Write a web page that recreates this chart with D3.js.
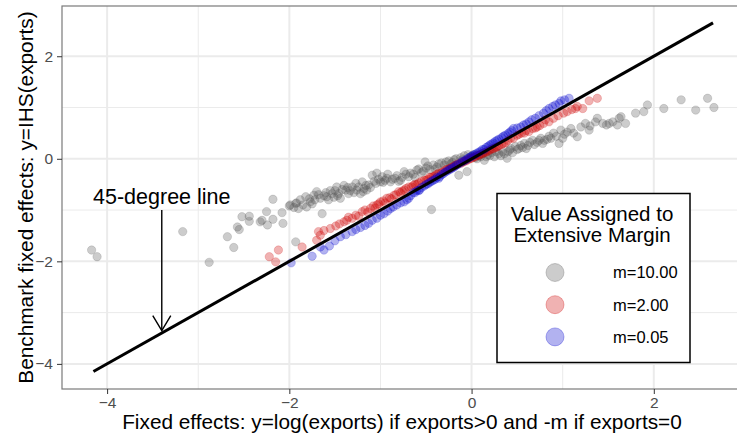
<!DOCTYPE html>
<html>
<head>
<meta charset="utf-8">
<script src="https://cdn.jsdelivr.net/npm/d3@7"></script>
<style>
  body { margin: 0; background: #fff; }
  svg { display: block; font-family: "Liberation Sans", Arial, Helvetica, sans-serif; }
</style>
</head>
<body>
<svg id="chart"></svg>
<script>
// m = 10.00 (grey)
const greyPoints = [
  [-4.17,-1.78],[-4.11,-1.91],[-3.17,-1.42],[-2.88,-2.02],[-2.68,-1.52],[-2.61,-1.73],[-2.57,-1.33],
  [-2.55,-1.38],[-2.52,-1.13],[-2.44,-1.12],[-2.44,-1.22],[-2.32,-1.23],[-2.30,-1.20],[-2.25,-1.03],
  [-2.24,-1.29],[-2.18,-0.79],[-2.18,-1.18],[-2.08,-1.05],[-2.07,-1.26],[-2.00,-0.92],[-1.93,-0.87],
  [-1.93,-1.62],[-1.99,-0.90],[-1.92,-0.86],[-1.90,-0.97],[-1.82,-0.74],[-1.81,-0.94],[-1.77,-0.84],
  [-1.73,-0.71],[-1.70,-0.64],[-1.66,-0.77],[-1.64,-1.07],[-1.59,-0.74],[-1.55,-0.62],[-1.51,-0.75],
  [-1.48,-0.55],[-1.46,-0.68],[-1.44,-0.77],[-1.40,-0.52],[-1.38,-0.61],[-1.35,-0.68],[-1.31,-0.55],
  [-1.27,-0.48],[-1.26,-0.61],[-1.22,-0.68],[-1.20,-0.45],[-1.18,-0.58],[-1.15,-0.61],[-1.13,-0.51],
  [-1.09,-0.32],[-1.05,-0.48],[-1.04,-0.28],[-1.00,-0.45],[-0.98,-0.35],[-0.95,-0.42],[-0.92,-0.30],
  [-0.89,-0.45],[-0.84,-0.38],[-0.78,-0.42],[-0.74,-0.25],[-0.69,-0.35],[-0.64,-0.30],[-0.60,-0.22],
  [-0.55,-0.27],[-0.51,-0.06],[-0.50,-0.18],[-0.46,-0.21],[-0.44,-0.99],[-0.42,-0.12],[-0.38,-0.16],
  [-0.33,-0.08],[-0.30,-0.12],[-0.25,-0.04],[-0.21,-0.07],[-0.17,0.00],[-0.14,-0.32],[-0.12,0.02],
  [-0.08,0.06],[-0.05,-0.25],[-0.04,0.08],[0.00,0.05],[0.04,0.02],[0.08,0.06],[0.14,-0.03],
  [0.18,0.08],[0.22,0.12],[0.25,0.04],[0.30,0.10],[0.34,0.14],[0.39,0.01],[0.42,0.17],[0.43,0.20],
  [0.48,0.24],[0.52,0.20],[0.58,0.30],[0.62,0.26],[0.67,0.36],[0.72,0.32],[0.76,0.40],[0.80,0.36],
  [0.85,0.44],[0.90,0.50],[0.96,0.30],[0.98,0.56],[1.02,0.48],[1.09,0.59],[1.16,0.43],[1.20,0.62],
  [1.25,0.69],[1.29,0.56],[1.36,0.72],[1.38,0.79],[1.44,0.69],[1.51,0.69],[1.60,0.66],[1.62,0.79],
  [1.64,0.82],[1.69,0.69],[1.80,0.89],[1.89,0.92],[1.93,1.05],[2.11,0.98],[2.30,1.15],[2.46,0.95],
  [2.59,1.18],[2.66,1.00],
  [-1.95,-0.95],[-1.88,-0.80],[-1.85,-0.90],[-1.78,-0.78],[-1.75,-0.88],[-1.72,-0.80],[-1.68,-0.70],
  [-1.62,-0.72],[-1.60,-0.66],[-1.57,-0.80],[-1.53,-0.68],[-1.50,-0.62],[-1.47,-0.72],[-1.42,-0.60],
  [-1.36,-0.56],[-1.33,-0.62],[-1.29,-0.66],[-1.24,-0.55],[-1.19,-0.64],[-1.16,-0.52],[-1.11,-0.56],
  [-1.07,-0.44],[-1.02,-0.40],[-0.97,-0.46],[-0.93,-0.38],[-0.87,-0.40],[-0.82,-0.33],[-0.80,-0.44],
  [-0.76,-0.36],[-0.72,-0.30],[-0.67,-0.28],[-0.62,-0.36],[-0.58,-0.20],[-0.53,-0.24],[-0.48,-0.14],
  [-0.40,-0.20],[-0.36,-0.10],[-0.28,-0.06],[-0.23,-0.10],[-0.19,-0.02],[-0.10,-0.02],[-0.02,0.02],
  [0.02,0.08],[0.06,0.00],[0.10,0.04],[0.12,0.10],[0.16,0.04],[0.20,0.06],[0.27,0.14],[0.32,0.06],
  [0.36,0.10],[0.40,0.14],[0.45,0.12],[0.50,0.18],[0.54,0.26],[0.56,0.22],[0.60,0.20],[0.64,0.32],
  [0.69,0.28],[0.74,0.36],[0.78,0.30],[0.83,0.38],[0.87,0.40],[0.93,0.44],[1.00,0.40],[1.05,0.52],
  [1.12,0.50],[1.30,0.64],[1.48,0.66],[1.55,0.72]
];

// m = 2.00 (red)
const redPoints = [
  [-2.22,-1.91],[-2.15,-2.01],[-2.12,-1.78],[-1.86,-1.72],[-1.70,-1.59],[-1.68,-1.42],[-1.66,-1.49],
  [-1.55,-1.36],[-1.49,-1.31],[-1.40,-1.23],[-1.37,-1.20],[-1.31,-1.16],[-1.20,-1.03],[-1.11,-0.97],
  [-1.04,-0.90],[-1.00,-0.84],[-0.93,-0.77],[-0.85,-0.71],[-0.80,-0.64],[-0.74,-0.61],[-0.69,-0.55],
  [-0.64,-0.52],[-0.60,-0.50],[-0.58,-0.47],[-0.55,-0.44],[-0.50,-0.42],[-0.46,-0.36],[-0.42,-0.35],
  [-0.38,-0.30],[-0.36,-0.28],[-0.33,-0.27],[-0.29,-0.22],[-0.25,-0.20],[-0.21,-0.16],[-0.17,-0.12],
  [-0.15,-0.10],[-0.12,-0.09],[-0.08,-0.05],[-0.04,-0.02],[0.00,0.01],[0.04,0.04],[0.06,0.07],
  [0.08,0.07],[0.12,0.10],[0.16,0.13],[0.20,0.17],[0.24,0.20],[0.26,0.22],[0.28,0.23],[0.33,0.28],
  [0.37,0.31],[0.43,0.40],[0.50,0.46],[0.55,0.50],[0.63,0.53],[0.67,0.59],[0.72,0.62],[0.79,0.69],
  [0.81,0.76],[0.90,0.79],[1.01,0.89],[1.05,0.92],[1.14,0.98],[1.16,1.02],[1.22,0.98],[1.29,1.13],
  [1.38,1.18],
  [-1.62,-1.40],[-1.45,-1.27],[-1.35,-1.14],[-1.27,-1.10],[-1.24,-1.12],[-1.17,-1.00],[-1.14,-1.04],
  [-1.08,-0.92],[-1.06,-0.96],[-1.02,-0.88],[-0.97,-0.82],[-0.95,-0.86],[-0.90,-0.76],[-0.88,-0.78],
  [-0.83,-0.70],[-0.78,-0.66],[-0.76,-0.63],[-0.72,-0.58],[-0.66,-0.55],[-0.62,-0.50],[-0.52,-0.42],
  [-0.48,-0.40],[-0.44,-0.36],[-0.40,-0.33],[-0.31,-0.25],[-0.27,-0.21],[-0.23,-0.18],[-0.19,-0.14],
  [-0.10,-0.07],[-0.06,-0.04],[-0.02,0.00],[0.02,0.03],[0.10,0.09],[0.14,0.12],[0.18,0.15],
  [0.22,0.19],[0.30,0.25],[0.35,0.30],[0.40,0.36],[0.46,0.40],[0.52,0.48],[0.58,0.50],[0.60,0.55],
  [0.70,0.60],[0.75,0.65],[0.85,0.72],[0.95,0.84],[1.10,0.96]
];

// m = 0.05 (blue)
const bluePoints = [
  [-1.98,-2.03],[-1.75,-1.90],[-1.66,-1.72],[-1.62,-1.78],[-1.44,-1.52],[-1.31,-1.42],[-1.22,-1.34],
  [-1.13,-1.26],[-1.04,-1.16],[-0.96,-1.07],[-0.89,-0.97],[-0.82,-0.90],[-0.74,-0.84],[-0.69,-0.77],
  [-0.64,-0.66],[-0.60,-0.62],[-0.57,-0.61],[-0.55,-0.56],[-0.50,-0.50],[-0.46,-0.46],[-0.42,-0.42],
  [-0.38,-0.36],[-0.35,-0.35],[-0.33,-0.31],[-0.29,-0.26],[-0.25,-0.22],[-0.21,-0.18],[-0.17,-0.13],
  [-0.12,-0.08],[-0.10,-0.05],[-0.08,-0.04],[-0.04,0.01],[0.00,0.05],[0.04,0.09],[0.08,0.13],
  [0.12,0.18],[0.14,0.18],[0.16,0.22],[0.20,0.27],[0.24,0.31],[0.28,0.36],[0.30,0.38],[0.33,0.41],
  [0.37,0.46],[0.42,0.52],[0.46,0.59],[0.54,0.62],[0.60,0.68],[0.63,0.72],[0.70,0.79],[0.79,0.89],
  [0.85,0.98],[0.89,1.02],[0.96,1.08],[0.98,1.13],[1.07,1.18],
  [-1.56,-1.70],[-1.50,-1.60],[-1.38,-1.48],[-1.27,-1.38],[-1.17,-1.30],[-1.09,-1.20],[-1.00,-1.10],
  [-0.92,-1.02],[-0.86,-0.94],[-0.78,-0.86],[-0.71,-0.80],[-0.67,-0.72],[-0.62,-0.66],[-0.58,-0.62],
  [-0.52,-0.53],[-0.48,-0.49],[-0.44,-0.44],[-0.40,-0.40],[-0.36,-0.38],[-0.31,-0.29],[-0.27,-0.24],
  [-0.23,-0.20],[-0.19,-0.16],[-0.15,-0.11],[-0.06,-0.02],[-0.02,0.03],[0.02,0.07],[0.06,0.11],
  [0.10,0.15],[0.18,0.24],[0.22,0.29],[0.26,0.34],[0.35,0.44],[0.40,0.49],[0.44,0.55],[0.50,0.60],
  [0.57,0.66],[0.66,0.76],[0.74,0.84],[0.82,0.94],[0.92,1.05],[1.02,1.15]
];

const xTicks = [-4, -2, 0, 2];
const yTicks = [-4, -2, 0, 2];
const minorTicks = [-3, -1, 1];
const lineEnds = [-4.15, 2.65];
const legendLabels = ["m=10.00", "m=2.00", "m=0.05"];
const legendColors = ["#555555", "#cd0000", "#0000cd"];

const width = 737, height = 445;
const margin = {top: 6, right: -2, bottom: 56, left: 62};

const svg = d3.select("#chart")
  .attr("width", width)
  .attr("height", height);

const x = d3.scaleLinear()
  .domain([-4.495, 2.935])
  .range([margin.left, width - margin.right]);

const y = d3.scaleLinear()
  .domain([-4.49, 2.98])
  .range([height - margin.bottom, margin.top]);

// grid: minor lines thin, major lines thicker
const grid = svg.append("g").attr("stroke", "#ebebeb");
const gridLines = (values, w, vertical) => grid.append("g")
  .attr("stroke-width", w)
  .selectAll("line")
  .data(values)
  .join("line")
  .attr("x1", d => vertical ? x(d) : x.range()[0])
  .attr("x2", d => vertical ? x(d) : x.range()[1])
  .attr("y1", d => vertical ? y.range()[0] : y(d))
  .attr("y2", d => vertical ? y.range()[1] : y(d));
gridLines(minorTicks, 1, true);
gridLines(minorTicks, 1, false);
gridLines(xTicks, 2, true);
gridLines(yTicks, 2, false);

// points, grey first then red then blue on top
const series = [greyPoints, redPoints, bluePoints];
svg.append("g")
  .selectAll("g")
  .data(series)
  .join("g")
  .attr("fill", (d, i) => legendColors[i])
  .attr("stroke", (d, i) => legendColors[i])
  .attr("fill-opacity", 0.3)
  .attr("stroke-opacity", 0.3)
  .selectAll("circle")
  .data(d => d)
  .join("circle")
  .attr("cx", d => x(d[0]))
  .attr("cy", d => y(d[1]))
  .attr("r", 4.2)
  .attr("stroke-width", 0.6);

// 45-degree line
svg.append("line")
  .attr("x1", x(lineEnds[0])).attr("y1", y(lineEnds[0]))
  .attr("x2", x(lineEnds[1])).attr("y2", y(lineEnds[1]))
  .attr("stroke", "#000")
  .attr("stroke-width", 3);

// annotation
const ax = -3.4;
svg.append("text")
  .attr("x", x(ax))
  .attr("y", y(-0.88))
  .attr("text-anchor", "middle")
  .attr("font-size", 21.5)
  .attr("fill", "#000")
  .text("45-degree line");
svg.append("line")
  .attr("x1", x(ax)).attr("x2", x(ax))
  .attr("y1", y(-1.0)).attr("y2", y(-3.35))
  .attr("stroke", "#000").attr("stroke-width", 1.4);
svg.append("path")
  .attr("d", `M${x(ax) - 9},${y(-3.35) - 15}L${x(ax)},${y(-3.35)}L${x(ax) + 9},${y(-3.35) - 15}`)
  .attr("fill", "none")
  .attr("stroke", "#000").attr("stroke-width", 1.4);

// panel border
svg.append("rect")
  .attr("x", x.range()[0])
  .attr("y", y.range()[1])
  .attr("width", x.range()[1] - x.range()[0] + 4)
  .attr("height", y.range()[0] - y.range()[1])
  .attr("fill", "none")
  .attr("stroke", "#7a7a7a")
  .attr("stroke-width", 1.2);

// x axis
svg.append("g")
  .attr("transform", `translate(0,${y.range()[0]})`)
  .call(d3.axisBottom(x).tickValues(xTicks).tickSize(5).tickPadding(3).tickFormat(d3.format("d")))
  .call(g => g.select(".domain").remove())
  .call(g => g.selectAll("line").attr("stroke", "#333"))
  .call(g => g.selectAll("text").attr("fill", "#4d4d4d").attr("font-size", 15.5).attr("font-family", null));

// y axis
svg.append("g")
  .attr("transform", `translate(${x.range()[0]},0)`)
  .call(d3.axisLeft(y).tickValues(yTicks).tickSize(5).tickPadding(4).tickFormat(d3.format("d")))
  .call(g => g.select(".domain").remove())
  .call(g => g.selectAll("line").attr("stroke", "#333"))
  .call(g => g.selectAll("text").attr("fill", "#4d4d4d").attr("font-size", 15.5).attr("font-family", null));

// axis titles
svg.append("text")
  .attr("x", 402)
  .attr("y", 429)
  .attr("text-anchor", "middle")
  .attr("font-size", 20.8)
  .text("Fixed effects: y=log(exports) if exports>0 and -m if exports=0");
svg.append("text")
  .attr("transform", `translate(33,${(y.range()[0] + y.range()[1]) / 2}) rotate(-90)`)
  .attr("text-anchor", "middle")
  .attr("font-size", 20.8)
  .text("Benchmark fixed effects: y=IHS(exports)");

// legend
const legend = svg.append("g");
legend.append("rect")
  .attr("x", 497).attr("y", 193.5)
  .attr("width", 193).attr("height", 169)
  .attr("fill", "#fff")
  .attr("stroke", "#000")
  .attr("stroke-width", 1.5);
legend.append("text")
  .attr("x", 592).attr("y", 221)
  .attr("text-anchor", "middle")
  .attr("font-size", 20.5)
  .text("Value Assigned to");
legend.append("text")
  .attr("x", 592).attr("y", 242)
  .attr("text-anchor", "middle")
  .attr("font-size", 20.5)
  .text("Extensive Margin");
legend.selectAll("g")
  .data(legendLabels)
  .join("g")
  .attr("transform", (d, i) => `translate(555,${272.5 + i * 32.2})`)
  .call(g => g.append("circle")
    .attr("r", 9)
    .attr("fill", (d, i) => legendColors[i])
    .attr("stroke", (d, i) => legendColors[i])
    .attr("fill-opacity", 0.3)
    .attr("stroke-opacity", 0.3))
  .call(g => g.append("text")
    .attr("x", 58)
    .attr("dy", "0.36em")
    .attr("font-size", 16.5)
    .text(d => d));
</script>
</body>
</html>
